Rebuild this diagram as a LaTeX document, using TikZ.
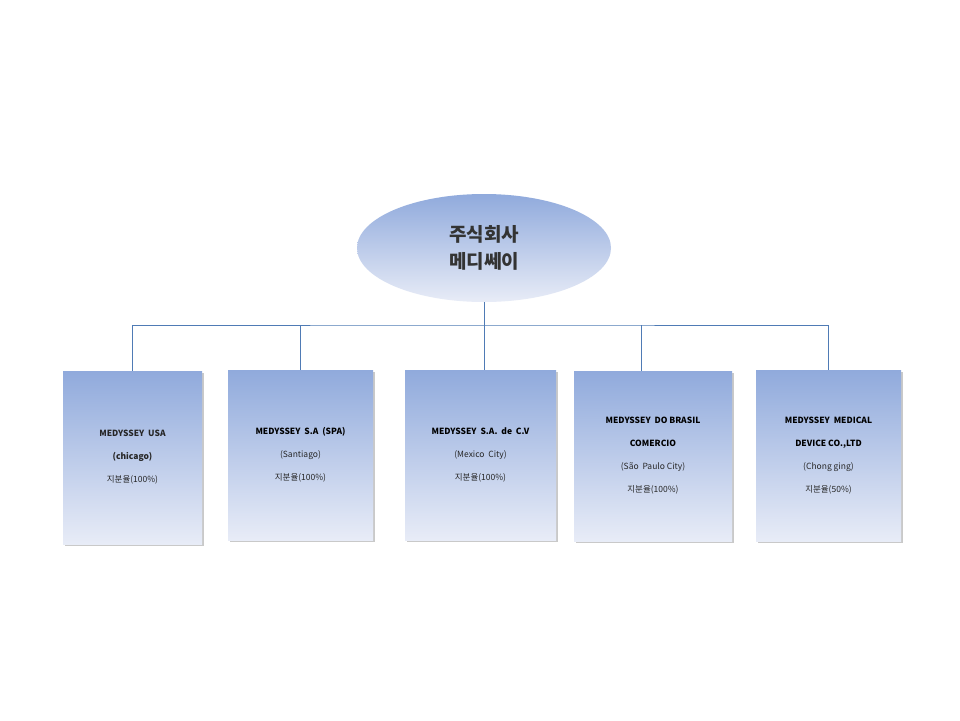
\documentclass[tikz,border=0pt]{standalone}
\usepackage{fontspec}
\setmainfont{Noto Sans CJK KR}
\usetikzlibrary{shadows,shapes.geometric}
\definecolor{lnc}{HTML}{4F7BB5}
\definecolor{topc}{HTML}{90AADC}
\definecolor{botc}{HTML}{E8ECF7}
\tikzset{
 x=1pt,y=-1pt,
 cbox/.style={rectangle,inner sep=0pt,top color=topc,bottom color=botc,draw=none,
   drop shadow={shadow xshift=1.5pt,shadow yshift=-1.5pt,fill=black!35,opacity=0.6},
   text=black!85,align=center,font=\fontsize{8.5}{23}\selectfont},
 conn/.style={draw=lnc,line width=0.8pt},
}
\begin{document}
\begin{tikzpicture}
\useasboundingbox[fill=white] (0,0) rectangle (960,720);
\node[ellipse,minimum width=254pt,minimum height=108pt,inner sep=0pt,top color=topc,bottom color=botc,
  align=center,font=\fontsize{19}{27}\selectfont\bfseries,text=black!80] (root) at (484,248) {주식회사\\메디쎄이};
\node[cbox,minimum width=139pt,minimum height=173pt] (a) at (132.5,457.5) {\textbf{MEDYSSEY\ \ USA}\\\textbf{(chicago)}\\지분율(100\%)};
\node[cbox,minimum width=145pt,minimum height=170pt] (b) at (300.5,455) {\textbf{\color{black}MEDYSSEY\ \ S.A\ \ (SPA)}\\(Santiago)\\지분율(100\%)};
\node[cbox,minimum width=151pt,minimum height=170pt] (c) at (480.5,455) {\textbf{\color{black}MEDYSSEY\ \ S.A.\ \ de\ \ C.V}\\(Mexico\ \ City)\\지분율(100\%)};
\node[cbox,minimum width=158pt,minimum height=170pt] (d) at (653,456) {\textbf{\color{black}MEDYSSEY\ \ DO BRASIL}\\\textbf{\color{black}COMERCIO}\\(São\ \ Paulo City)\\지분율(100\%)};
\node[cbox,minimum width=145pt,minimum height=171pt] (e) at (828.5,455.5) {\textbf{\color{black}MEDYSSEY\ \ MEDICAL}\\\textbf{\color{black}DEVICE CO.,LTD}\\(Chong ging)\\지분율(50\%)};
\coordinate (h) at (484,325);
\coordinate (dt) at (641,371);
\draw[conn] (root.south) -- (h);
\draw[conn] (a.north) |- (h) -| (e.north);
\draw[conn] (b.north) -- (b.north |- h);
\draw[conn] (h) -- (c.north -| h);
\draw[conn] (dt) -- (dt |- h);
\end{tikzpicture}
\end{document}
